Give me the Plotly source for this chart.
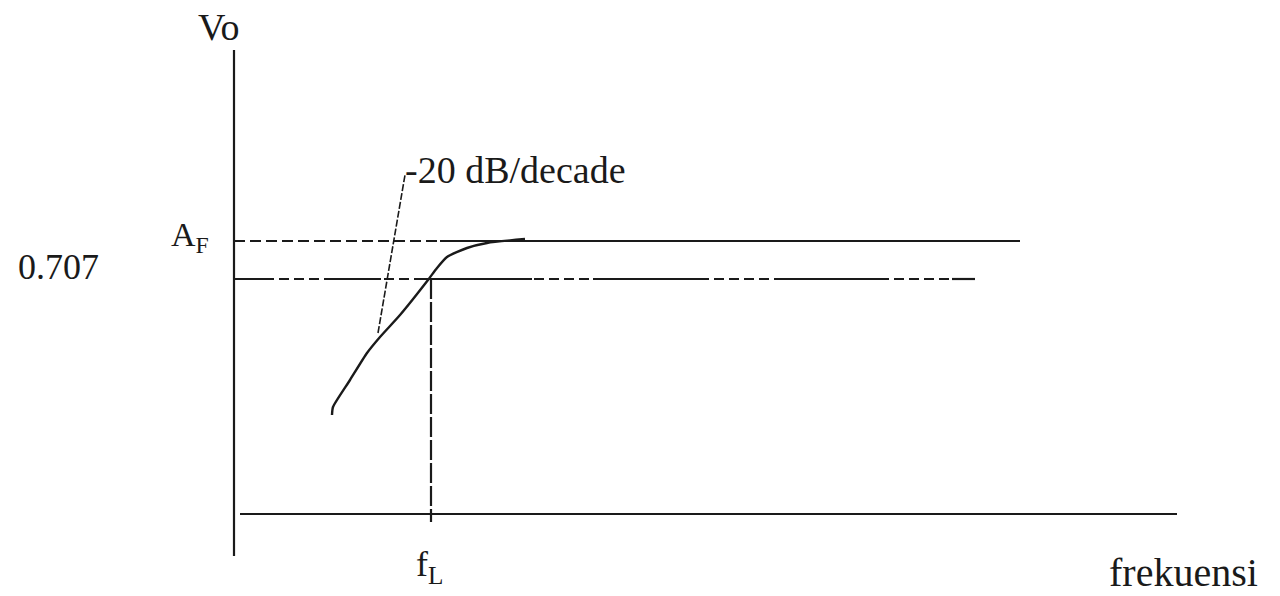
import plotly.graph_objects as go

# ---- data (arbitrary schematic units: 1 unit = 100 px) ----
# response curve of the high-pass section (Vo vs frequency)
curve_f = [0.98, 0.99, 1.16, 1.33, 1.46, 1.66, 1.94, 2.03, 2.13, 2.33, 2.53, 2.91]
curve_vo = [0.99, 1.07, 1.34, 1.61, 1.77, 1.99, 2.34, 2.46, 2.57, 2.66, 2.71, 2.75]

AF_level = 2.73          # A_F level
ref_level = 2.35         # 0.707 level
fL = 1.97                # cut-off frequency f_L

vo_axis_y = [-0.42, 4.64]    # vertical axis extent
freq_axis_x = [0.06, 9.43]   # horizontal axis extent

AF_dash_x = [0.0, 2.06]
AF_solid_x = [2.06, 7.86]
ref_x = [0.0, 7.41]
ref_solid_segments = [[0.0, 0.35], [0.98, 1.47], [1.86, 2.98], [3.59, 4.66], [5.47, 6.54], [7.18, 7.41]]
fL_drop_y = [ref_level, -0.08]

leader_x = [1.44, 1.71]
leader_y = [1.81, 3.39]

labels = ["Vo", "-20 dB/decade", "A<sub>F</sub>", "0.707", "f<sub>L</sub>", "frekuensi"]
label_x = [-0.15, 1.69, -0.65, -2.18, 1.80, 8.73]
label_y = [4.87, 3.44, 2.77, 2.47, -0.52, -0.585]
label_size = [38, 38, 34, 36, 36, 40]
label_anchor = ["center", "left", "left", "left", "left", "left"]

INK = "#1a1a1a"
FONT = "Liberation Serif"

fig = go.Figure()

def line(x, y, width=2.2, dash="solid"):
    fig.add_trace(go.Scatter(x=x, y=y, mode="lines",
                             line=dict(color=INK, width=width, dash=dash),
                             hoverinfo="skip", showlegend=False))

# axes
line([0, 0], vo_axis_y)
line(freq_axis_x, [0, 0])
# A_F level
line(AF_dash_x, [AF_level, AF_level], dash="11px,5px")
line(AF_solid_x, [AF_level, AF_level])
# 0.707 level
line(ref_x, [ref_level, ref_level], dash="10px,5px")
for seg in ref_solid_segments:
    line(seg, [ref_level, ref_level])
# f_L drop line
line([fL, fL], fL_drop_y, dash="20px,3px")
# response curve
fig.add_trace(go.Scatter(x=curve_f, y=curve_vo, mode="lines",
                         line=dict(color=INK, width=2.4, shape="spline", smoothing=0.6),
                         hoverinfo="skip", showlegend=False))
# leader for slope label
line(leader_x, leader_y, width=1.6, dash="7px,2px")

for t, x, y, a, s in zip(labels, label_x, label_y, label_anchor, label_size):
    fig.add_annotation(x=x, y=y, text=t, showarrow=False, xanchor=a, yanchor="middle",
                       font=dict(family=FONT, size=s, color=INK))

fig.update_layout(
    width=1280, height=596,
    margin=dict(l=0, r=0, t=0, b=0),
    paper_bgcolor="white", plot_bgcolor="white",
    xaxis=dict(range=[-2.34, 10.46], visible=False, fixedrange=True),
    yaxis=dict(range=[-0.82, 5.14], visible=False, fixedrange=True),
    showlegend=False,
)

fig.write_html("out.html", config={"displayModeBar": False},
               post_script="document.body.style.margin='0';document.body.style.overflow='hidden';")
